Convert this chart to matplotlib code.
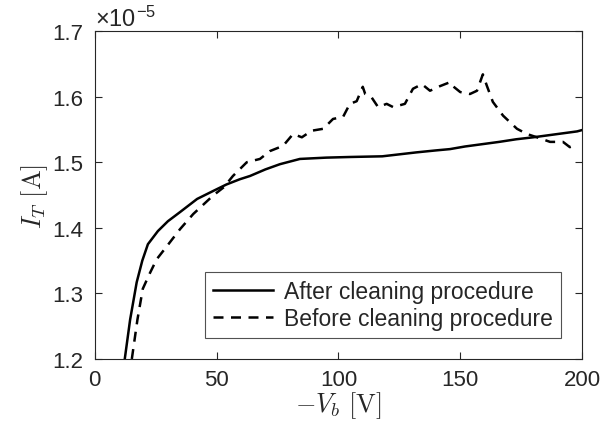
import matplotlib
matplotlib.use('Agg')
from matplotlib import pyplot as plt

# bias voltage -V_b [V] and current I_T [x1e-5 A]
v_after = [12.3, 14.5, 17.2, 19.5, 21.8, 25.9, 30, 35, 42, 48.5, 54, 59.5, 63.7, 70, 76, 84.2,
           95, 105, 118, 125, 132, 140, 145.8, 152, 160, 166, 173, 180, 186, 192, 198, 200]
i_after = [1.20, 1.26, 1.317, 1.35, 1.375, 1.395, 1.41, 1.424, 1.444, 1.456, 1.466, 1.474, 1.479,
           1.489, 1.497, 1.505, 1.507, 1.508, 1.509, 1.512, 1.515, 1.518, 1.520, 1.524, 1.528,
           1.531, 1.535, 1.538, 1.541, 1.544, 1.547, 1.549]

v_before = [15.2, 17.5, 19.7, 22.5, 25.4, 29.6, 35, 40.4, 48.5, 53, 56.7, 62.4, 67.8, 71.9, 77.3,
            81.4, 85, 89, 93.8, 97.8, 101.9, 104.7, 107.5, 110, 111, 113.6, 116.3, 119.8, 122.5,
            127.3, 130.6, 134.3, 137.6, 141.7, 145.8, 147, 150, 154, 156.9, 159.3, 161, 163.4,
            167.6, 173.3, 177.4, 181.5, 186.9, 192.2, 195, 196.5]
i_before = [1.20, 1.26, 1.307, 1.33, 1.352, 1.372, 1.398, 1.421, 1.449, 1.462, 1.479, 1.50, 1.505,
            1.517, 1.525, 1.543, 1.538, 1.548, 1.551, 1.566, 1.569, 1.589, 1.593, 1.615, 1.604,
            1.599, 1.584, 1.589, 1.584, 1.589, 1.612, 1.619, 1.609, 1.616, 1.622, 1.616, 1.607,
            1.604, 1.609, 1.634, 1.616, 1.592, 1.571, 1.551, 1.543, 1.538, 1.531, 1.531, 1.523, 1.525]

plt.rcParams['font.family'] = ['Liberation Sans', 'DejaVu Sans']
plt.rcParams['mathtext.fontset'] = 'cm'

fig = plt.figure(figsize=(6, 4.39), dpi=100)
ax = fig.add_axes([0.158, 0.18, 0.812, 0.747])
ax.plot(v_after, i_after, color='black', linewidth=1.8, label='After cleaning procedure')
ax.plot(v_before, i_before, color='black', linewidth=1.8, linestyle=(0, (4, 3)),
        label='Before cleaning procedure')

ax.set_xlim(0, 200)
ax.set_ylim(1.2, 1.7)
ax.set_xticks([0, 50, 100, 150, 200])
ax.set_yticks([1.2, 1.3, 1.4, 1.5, 1.6, 1.7])
ax.set_yticklabels(['1.2', '1.3', '1.4', '1.5', '1.6', '1.7'])
gray = '#262626'
for s in ax.spines.values():
    s.set_color(gray)
    s.set_linewidth(0.8)
ax.tick_params(direction='in', top=True, right=True, length=5, width=0.8,
               colors=gray, labelsize=16, labelcolor=gray)
ax.tick_params(axis='x', pad=7)
ax.tick_params(axis='y', pad=8)
ax.set_xlabel(r'$-V_b\ [\mathrm{V}]$', fontsize=19, color=gray, labelpad=0)
ax.set_ylabel(r'$I_T\ [\mathrm{A}]$', fontsize=19, color=gray, labelpad=2)
ax.text(0.0, 1.0, '\u00d710$^{\\mathregular{-5}}$', transform=ax.transAxes,
        fontsize=17, color=gray, ha='left', va='bottom')

leg = ax.legend(loc='lower right', fontsize=16.5, frameon=True, fancybox=False,
                handlelength=2.6, handletextpad=0.5, borderaxespad=0.9, labelspacing=0.2,
                borderpad=0.35)
leg.get_frame().set_edgecolor(gray)
leg.get_frame().set_linewidth(0.8)
for t in leg.get_texts():
    t.set_color(gray)

plt.savefig('out.png', dpi=100)
